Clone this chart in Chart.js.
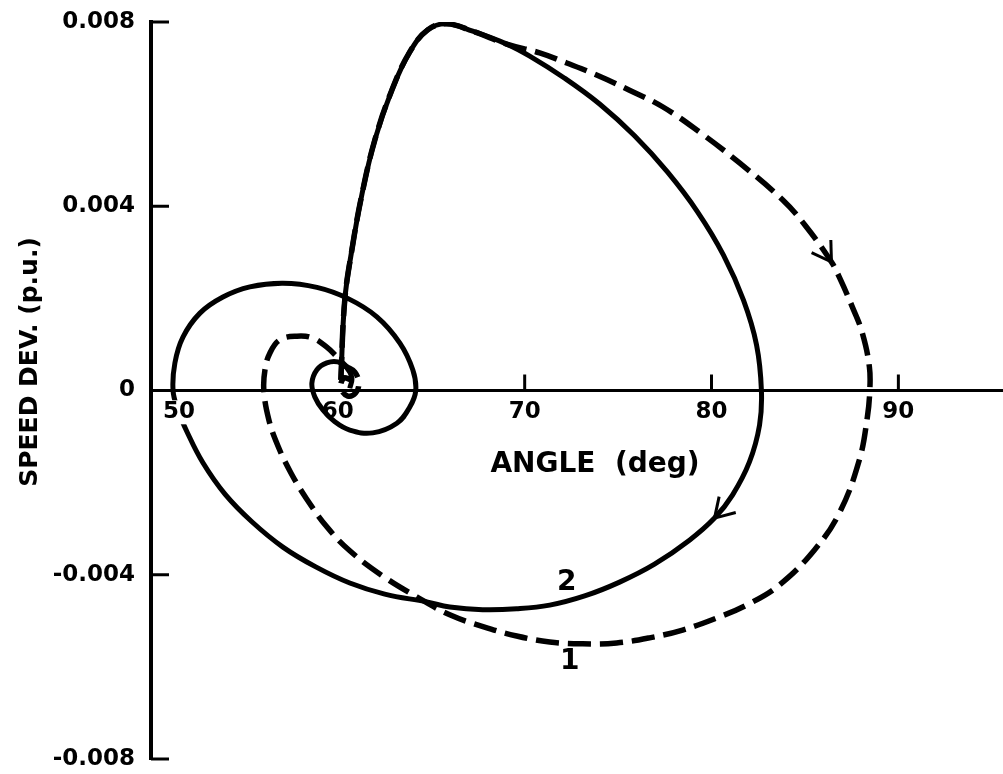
<!DOCTYPE html>
<html lang="en">
<head>
    <meta charset="UTF-8">
    <title>Speed deviation vs. angle</title>
    <script src="https://cdn.jsdelivr.net/npm/chart.js"></script>
    <style>
        body {
            margin: 0;
            background: #fff;
        }

        #wrap {
            position: relative;
            width: 1003px;
            height: 774px;
        }
    </style>
</head>
<body>
    <div id="wrap">
        <canvas id="phaseChart"></canvas>
    </div>

    <script>
        // Curve 2 (solid): rotor angle (deg) and speed deviation (p.u.)
        const curve2Angle = [
            60.16, 60.37, 60.75, 61.28, 61.98, 62.89, 63.85, 64.81, 65.83, 67.22, 69.04,
            70.27, 72.14, 74.01, 75.88, 77.65, 79.25, 80.64, 81.71, 82.41, 82.67, 82.57, 82.03, 81.12, 80.16,
            78.82, 76.95, 75.08, 73.21, 71.34, 69.57, 67.75, 65.99, 64.76, 62.51, 60.64, 58.82, 57.06, 55.40,
            53.96, 52.78, 51.93, 51.44, 51.18,
            51.28, 51.71, 52.62, 53.85, 55.29, 57.06, 58.88, 60.53, 62.09, 63.32, 64.01, 64.17,
            63.85, 63.16, 61.87, 60.64, 59.84, 59.20, 58.77, 58.61, 58.88, 59.41, 60.00, 60.48, 60.75, 60.64
        ];
        const curve2Speed = [
            0.00023, 0.00196, 0.00305, 0.00424, 0.00544, 0.00652, 0.00735, 0.00783, 0.00796, 0.00780, 0.00752,
            0.00726, 0.00678, 0.00622, 0.00553, 0.00474, 0.00388, 0.00294, 0.00196, 0.00099, 0.00000, -0.00075, -0.00155, -0.00227, -0.00277,
            -0.00325, -0.00377, -0.00416, -0.00446, -0.00466, -0.00474, -0.00476, -0.00470, -0.00459, -0.00442, -0.00418, -0.00383, -0.00340, -0.00285,
            -0.00225, -0.00157, -0.00090, -0.00042, 0.00000,
            0.00060, 0.00116, 0.00168, 0.00203, 0.00225, 0.00233, 0.00224, 0.00200, 0.00160, 0.00103, 0.00045, 0.00000,
            -0.00036, -0.00071, -0.00092, -0.00086, -0.00068, -0.00042, -0.00014, 0.00016, 0.00045, 0.00060, 0.00062, 0.00049, 0.00027, 0.00005
        ];

        // Curve 1 (dashed): same first rise, larger excursion afterwards
        const curve1Angle = [
            60.16, 60.37, 60.75, 61.28, 61.98, 62.89, 63.85, 64.81, 65.83, 67.22, 69.04,
            70.80, 72.25, 73.85, 75.61, 77.38, 79.36, 81.50, 83.80, 85.08, 86.42, 86.84, 87.54, 88.07, 88.45, 88.47,
            88.34, 87.91, 86.84, 85.51, 83.64, 81.87, 80.27, 78.45, 76.68, 74.92, 73.10, 71.34, 69.57, 67.81, 65.99,
            64.22, 62.41, 60.64, 59.41, 58.34, 57.49, 56.79, 56.31, 56.04,
            56.10, 56.36, 56.90, 57.81, 58.66, 59.41, 59.95, 60.43, 60.91, 61.12, 60.96, 60.53, 60.16, 60.32, 60.70
        ];
        const curve1Speed = [
            0.00023, 0.00196, 0.00305, 0.00424, 0.00544, 0.00652, 0.00735, 0.00783, 0.00796, 0.00780, 0.00752,
            0.00733, 0.00711, 0.00685, 0.00652, 0.00616, 0.00561, 0.00494, 0.00414, 0.00355, 0.00279, 0.00246, 0.00181, 0.00125, 0.00051, 0.00000,
            -0.00058, -0.00151, -0.00266, -0.00346, -0.00422, -0.00466, -0.00494, -0.00520, -0.00537, -0.00548, -0.00550, -0.00546, -0.00533, -0.00513, -0.00487,
            -0.00448, -0.00403, -0.00348, -0.00296, -0.00236, -0.00179, -0.00120, -0.00064, 0.00000,
            0.00045, 0.00081, 0.00110, 0.00118, 0.00114, 0.00094, 0.00073, 0.00053, 0.00040, 0.00016, -0.00005, -0.00012, 0.00005, 0.00027, 0.00023
        ];

        // Axis ticks and labels
        const xTicks = [50, 60, 70, 80, 90];
        const xTickMarks = [70, 80, 90];
        const yTicks = [-0.008, -0.004, 0, 0.004, 0.008];
        const yTickLabels = ['-0.008', '-0.004', '0', '0.004', '0.008'];
        const yTickMarks = [-0.008, -0.004, 0.004, 0.008];

        // Direction arrows: [dataset index, point index]
        const arrowPoints = [[0, 24], [1, 20]];

        // Curve numbers
        const curveLabels = [
            { text: '1', angle: 72.41, speed: -0.00589 },
            { text: '2', angle: 72.25, speed: -0.00418 }
        ];

        const ink = '#000';
        const family = '"DejaVu Sans", sans-serif';

        function toPoints(xs, ys) {
            return xs.map((v, i) => ({ x: v, y: ys[i] }));
        }

        function line(ctx, x1, y1, x2, y2) {
            ctx.beginPath();
            ctx.moveTo(x1, y1);
            ctx.lineTo(x2, y2);
            ctx.stroke();
        }

        // Inward tick marks, arrow heads, titles and extra labels
        const overlay = {
            id: 'overlay',
            afterDraw(chart) {
                const ctx = chart.ctx;
                const x = chart.scales.x;
                const y = chart.scales.y;
                const area = chart.chartArea;
                const zero = y.getPixelForValue(0);

                ctx.save();
                ctx.strokeStyle = ink;
                ctx.fillStyle = ink;
                ctx.lineCap = 'butt';
                ctx.lineWidth = 3;

                xTickMarks.forEach(v => {
                    const px = x.getPixelForValue(v);
                    line(ctx, px, zero, px, zero - 16);
                });
                yTickMarks.forEach(v => {
                    const py = y.getPixelForValue(v);
                    line(ctx, area.left, py, area.left + 18, py);
                });

                // open arrow heads along the curves
                arrowPoints.forEach(([ds, idx]) => {
                    const pts = chart.getDatasetMeta(ds).data;
                    const tip = pts[idx], a = pts[idx - 1], b = pts[idx + 1];
                    const ang = Math.atan2(b.y - a.y, b.x - a.x) + Math.PI;
                    const len = 22, spread = 0.55;
                    line(ctx, tip.x, tip.y, tip.x + len * Math.cos(ang - spread), tip.y + len * Math.sin(ang - spread));
                    line(ctx, tip.x, tip.y, tip.x + len * Math.cos(ang + spread), tip.y + len * Math.sin(ang + spread));
                });

                ctx.textAlign = 'center';
                ctx.textBaseline = 'middle';

                // "50" sits to the right of the vertical axis
                ctx.font = 'bold 23px ' + family;
                const lx = area.left + 28, ly = zero + 8 + 13.8;
                const w = ctx.measureText('50').width;
                ctx.fillStyle = '#fff';
                ctx.fillRect(lx - w / 2 - 3, ly - 12, w + 6, 24);
                ctx.fillStyle = ink;
                ctx.fillText('50', lx, ly);

                ctx.font = 'bold 28px ' + family;
                curveLabels.forEach(l => {
                    ctx.fillText(l.text, x.getPixelForValue(l.angle), y.getPixelForValue(l.speed));
                });

                ctx.fillText('ANGLE  (deg)', 595, 465);

                ctx.font = 'bold 25px ' + family;
                ctx.translate(30, 362);
                ctx.rotate(-Math.PI / 2);
                ctx.fillText('SPEED DEV. (p.u.)', 0, 0);
                ctx.restore();
            }
        };

        const ctx = document.getElementById('phaseChart').getContext('2d');
        new Chart(ctx, {
            type: 'scatter',
            data: {
                datasets: [{
                    label: '2',
                    data: toPoints(curve2Angle, curve2Speed),
                    showLine: true,
                    borderColor: ink,
                    borderWidth: 5,
                    pointRadius: 0,
                    tension: 0.4
                }, {
                    label: '1',
                    data: toPoints(curve1Angle, curve1Speed),
                    showLine: true,
                    borderColor: ink,
                    borderWidth: 5.5,
                    borderDash: [23, 9],
                    pointRadius: 0,
                    tension: 0.4
                }]
            },
            options: {
                responsive: true,
                maintainAspectRatio: false,
                animation: false,
                layout: { padding: { top: 22, bottom: 15, left: 0, right: 0 } },
                plugins: {
                    legend: { display: false },
                    tooltip: { enabled: false }
                },
                scales: {
                    x: {
                        type: 'linear',
                        position: { y: 0 },
                        min: 50,
                        max: 95.6,
                        z: 1,
                        afterBuildTicks: s => { s.ticks = xTicks.map(v => ({ value: v })); },
                        afterFit: s => { s.paddingLeft = 0; s.paddingRight = 0; },
                        grid: { display: false, drawTicks: false },
                        border: { display: true, color: ink, width: 3 },
                        ticks: {
                            color: ink,
                            padding: 8,
                            maxRotation: 0,
                            font: { family: family, size: 23, weight: 'bold' },
                            showLabelBackdrop: true,
                            backdropColor: '#fff',
                            backdropPadding: 2,
                            callback: v => (v === 50 ? '' : String(v))
                        }
                    },
                    y: {
                        type: 'linear',
                        min: -0.008,
                        max: 0.008,
                        afterBuildTicks: s => { s.ticks = yTicks.map(v => ({ value: v })); },
                        afterFit: s => {
                            // fixed axis width; label overflow is covered by layout padding
                            s.width = 151;
                            s.paddingTop = 0;
                            s.paddingBottom = 0;
                        },
                        grid: { display: false, drawTicks: false },
                        border: { display: true, color: ink, width: 4 },
                        ticks: {
                            color: ink,
                            padding: 16,
                            font: { family: family, size: 23, weight: 'bold' },
                            callback: (v, i) => yTickLabels[i]
                        }
                    }
                }
            },
            plugins: [overlay]
        });
    </script>
</body>
</html>
